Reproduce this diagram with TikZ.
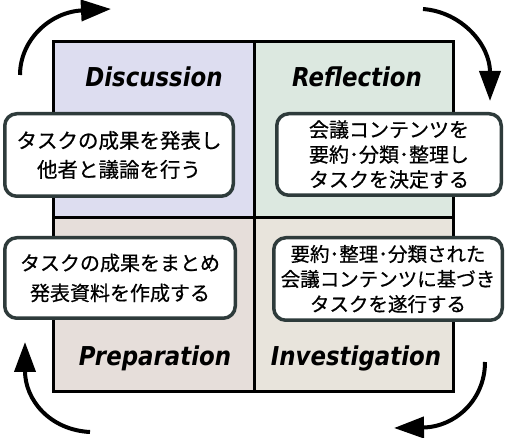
\documentclass[tikz,border=0pt]{standalone}
\usepackage{fontspec}
\newfontfamily\jpfont{Noto Sans CJK JP}[FakeBold=0.6]
\newfontfamily\labfont{DejaVu Sans}[FakeStretch=0.88]
\usetikzlibrary{arrows.meta}
\definecolor{qdcol}{HTML}{DDDDF0}
\definecolor{qrcol}{HTML}{DCE8E0}
\definecolor{qpcol}{HTML}{E6DEDA}
\definecolor{qicol}{HTML}{E8E4DC}
\definecolor{boxline}{HTML}{2E3B3B}
\begin{document}
\begin{tikzpicture}[x=1pt,y=-1pt,
  lab/.style={font=\labfont\bfseries\itshape\fontsize{26}{30}\selectfont, anchor=base, inner sep=0pt},
  tbox/.style={draw=boxline, line width=3.5pt, fill=white, rounded corners=12pt, inner sep=0pt, align=center},
  cyc/.style={line width=4pt, -{Triangle[length=30pt,width=21pt]}}]
\useasboundingbox (0,0) rectangle (509,438);
% quadrants
\fill[qdcol] (53,42) rectangle (254,218);
\fill[qrcol] (254,42) rectangle (453,218);
\fill[qpcol] (53,218) rectangle (254,392);
\fill[qicol] (254,218) rectangle (453,392);
\draw[line width=3pt] (53,42) rectangle (453,392);
\draw[line width=3pt] (254,42) -- (254,392);
\draw[line width=3pt] (53,218) -- (453,218);
% labels
\node[lab] (ld) at (154,87) {Discussion};
\node[lab] (lr) at (357,87) {Reflection};
\node[lab] (lp) at (155,366) {Preparation};
\node[lab] (li) at (356,366) {Investigation};
% boxes
\node[tbox, minimum width=228.5pt, minimum height=82.5pt,
  font=\jpfont\fontsize{20.5}{29}\selectfont] (bd) at (119,155)
  {タスクの成果を発表し\\他者と議論を行う};
\node[tbox, minimum width=224.5pt, minimum height=81.5pt,
  font=\jpfont\fontsize{20}{25}\selectfont] (br) at (389,154.5)
  {会議コンテンツを\\要約･分類･整理し\\タスクを決定する};
\node[tbox, minimum width=230.5pt, minimum height=80.5pt,
  font=\jpfont\fontsize{20}{30}\selectfont] (bp) at (120,278)
  {タスクの成果をまとめ\\発表資料を作成する};
\node[tbox, minimum width=228.5pt, minimum height=82.5pt,
  font=\jpfont\fontsize{19.5}{25}\selectfont] (bi) at (388,279)
  {要約･整理･分類された\\会議コンテンツに基づき\\タスクを遂行する};
% cycle arrows
\coordinate (a1s) at (20,75);  \coordinate (a1e) at (111,9);
\coordinate (a2s) at (423,9);  \coordinate (a2e) at (490,101);
\coordinate (a3s) at (485,362); \coordinate (a3e) at (394,428);
\coordinate (a4s) at (90,432); \coordinate (a4e) at (25,342);
\draw[cyc] (a1s) .. controls (20,40) and (50,12) .. (a1e);
\draw[cyc] (a2s) .. controls (462,12) and (490,45) .. (a2e);
\draw[cyc] (a3s) .. controls (485,400) and (455,427) .. (a3e);
\draw[cyc] (a4s) .. controls (50,430) and (25,400) .. (a4e);
\end{tikzpicture}
\end{document}
